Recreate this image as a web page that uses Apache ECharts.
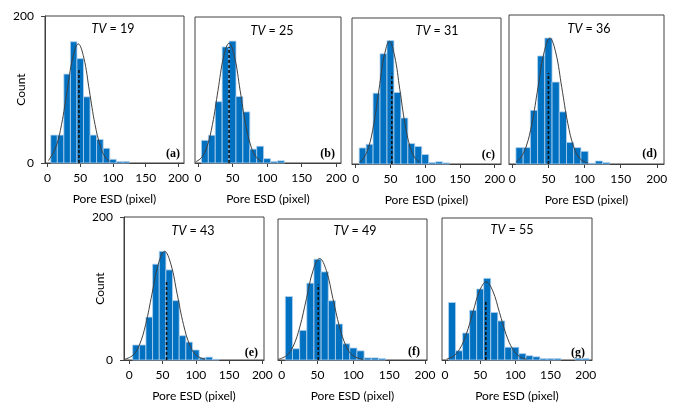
<!DOCTYPE html>
<html>
<head>
<meta charset="utf-8">
<script src="https://cdn.jsdelivr.net/npm/echarts@6/dist/echarts.min.js"></script>
<style>
html,body{margin:0;padding:0;background:#fff;}
#chart{width:680px;height:403px;}
</style>
</head>
<body>
<div id="chart"></div>
<script>
// ---------------- data ----------------
const binCenters = [10,20,30,40,50,60,70,80,90,100,110,120,130,140,150,160,170,180,190,200];
const countsA = [38,38,121,165,142,90,38,32,20,5,2,2];
const countsB = [31,38,84,159,167,91,70,19,23,6,2,3];
const countsC = [22,27,97,151,169,98,63,28,24,13,2,3,1.5];
const countsD = [22,22,72,145,169,110,70,29,22,17,1,4,2];
const countsE = [21,21,60,134,152,126,83,34,25,14,3,4,1];
const countsF = [90,16,42,109,143,125,84,51,23,17,13,3,3,2];
const countsG = [81,13,38,70,100,115,67,55,18,18,9,6,4.5,2,2,2,0,0,2,2];

const curveA = [[1.5,3.3],[13,22],[21.5,52.6],[30,98],[38.5,143],[47,162],[55.5,143],[64,98],[72.5,52.6],[81,22],[88,8],[95,2.4]];
const curveB = [[-3,1.8],[5,7.2],[13,22],[21,53],[29,99.5],[37,145],[45,164],[53,145],[61,99.5],[69,53],[77,22],[85,7.2],[92,2.2]];
const curveC = [[5,2.5],[11,7.4],[18.5,22.7],[26,54.5],[33.5,102],[41,148],[48.5,168],[56,148],[63.5,102],[71,54.5],[78.5,22.7],[86,7.4],[92,2.5]];
const curveD = [[5,2.9],[10.75,7.4],[19,22.9],[27.25,54.9],[35.5,102.5],[43.75,149],[52,169],[60.25,149],[68.5,102.5],[76.75,54.9],[85,22.9],[93.25,7.4],[105,1]];
const curveE = [[-6.5,1.1],[5.5,6.7],[15,20.6],[24.5,49.4],[34,92],[43.5,134],[53,152],[62.5,134],[72,92],[81.5,49.4],[91,20.6],[100.5,6.7],[114,0.9]];
const curveF = [[-4.7,1.1],[6.75,6.3],[16,19.5],[25.25,46.8],[34.5,87],[43.75,127],[53,144],[62.25,127],[71.5,87],[80.75,46.8],[90,19.5],[99.25,6.3],[114,0.6]];
const curveG = [[2.4,1.4],[11,4.8],[20.5,14.9],[30,35.7],[39.5,66.7],[49,97],[58.5,110],[68,97],[77.5,66.7],[87,35.7],[96.5,14.9],[106,4.8],[116,1]];

const meanX   = [48, 45, 52, 50, 56, 51, 58];
const meanTop = [129, 159, 124, 122, 110, 107, 82];

const tvValues = ['19','25','31','36','43','49','55'];
const panelLetters = ['(a)','(b)','(c)','(d)','(e)','(f)','(g)'];
const xTickValues = [0,50,100,150,200];
const yTickValues = [0,200];
const xAxisTitle = 'Pore ESD (pixel)';
const yAxisTitle = 'Count';

const allCounts = [countsA,countsB,countsC,countsD,countsE,countsF,countsG];
const allCurves = [curveA,curveB,curveC,curveD,curveE,curveF,curveG];

// ---------------- layout ----------------
const layout = [
  {left:45,  top:16,  width:139, height:147, xmin:-3.8, xmax:208.4, showY:true,  title:[113,29],  tag:[180,154]},
  {left:195, top:17,  width:146, height:146, xmin:-4.3, xmax:207,   showY:false, title:[272,31],  tag:[335,154]},
  {left:352, top:18,  width:149, height:146, xmin:-5.3, xmax:209,   showY:false, title:[437,30.5],tag:[495,155]},
  {left:509, top:15,  width:155, height:149, xmin:-4.6, xmax:210,   showY:false, title:[589,29],  tag:[657,154]},
  {left:124, top:217, width:140, height:147, xmin:-8,   xmax:202.5, showY:true,  title:[193,230.5],tag:[258,353]},
  {left:278, top:219, width:149, height:147, xmin:-5.2, xmax:202.8, showY:false, title:[355,231], tag:[420,352]},
  {left:442, top:218, width:150, height:148, xmin:-4.3, xmax:209,   showY:false, title:[512,230], tag:[585,353]}
];

const FONT = 'Lato, "Open Sans", sans-serif';
const FS = 12;
const BAR_COLOR = '#0070C0';
const grids = [], xAxes = [], yAxes = [], series = [], graphics = [];

layout.forEach((L, i) => {
  grids.push({left:L.left, top:L.top, width:L.width, height:L.height, show:true,
    borderColor:'#404040', borderWidth:1, backgroundColor:'transparent'});
  xAxes.push({
    type:'value', gridIndex:i, min:L.xmin, max:L.xmax,
    axisLine:{show:true, onZero:false, lineStyle:{color:'#404040', width:1}},
    axisTick:{show:true, customValues:xTickValues, length:4, lineStyle:{color:'#404040'}},
    axisLabel:{customValues:xTickValues, margin:9, fontSize:FS, color:'#000', fontFamily:FONT},
    splitLine:{show:false},
    name:xAxisTitle, nameLocation:'middle', nameGap:30, nameMoveOverlap:false,
    nameTextStyle:{fontSize:FS, color:'#000', fontFamily:FONT}
  });
  yAxes.push({
    type:'value', gridIndex:i, min:0, max:200,
    axisLine:{show:L.showY, onZero:false, lineStyle:{color:'#404040'}},
    axisTick:{show:L.showY, customValues:yTickValues, length:4, lineStyle:{color:'#404040'}},
    axisLabel:{show:L.showY, customValues:yTickValues, margin:11, fontSize:FS, color:'#000', fontFamily:FONT},
    splitLine:{show:false},
    name:L.showY ? yAxisTitle : '', nameLocation:'middle', nameGap:18, nameMoveOverlap:false,
    nameTextStyle:{fontSize:FS, color:'#000', fontFamily:FONT}
  });
  const barData = allCounts[i].map((c, k) => [binCenters[k], c]).filter(d => d[1] > 0);
  series.push({
    type:'custom', xAxisIndex:i, yAxisIndex:i, data:barData, z:2,
    renderItem:(params, api) => {
      const x = api.value(0), y = api.value(1);
      const p0 = api.coord([x - 5, y]);
      const p1 = api.coord([x + 5, 0]);
      return {type:'rect', shape:{x:p0[0], y:p0[1], width:p1[0]-p0[0], height:p1[1]-p0[1]},
        style:{fill:BAR_COLOR, stroke:'#B4D2EE', lineWidth:0.8}};
    }
  });
  series.push({
    type:'line', xAxisIndex:i, yAxisIndex:i, data:[[meanX[i],0],[meanX[i],meanTop[i]]],
    showSymbol:false, silent:true, z:3,
    lineStyle:{color:'#111', width:1.6, type:[3,2]}
  });
  series.push({
    type:'line', xAxisIndex:i, yAxisIndex:i, data:allCurves[i], smooth:0.4,
    showSymbol:false, silent:true, z:4,
    lineStyle:{color:'#404040', width:1}
  });
  graphics.push({
    type:'text', x:L.title[0], y:L.title[1],
    style:{text:'{i|TV}{n| = ' + tvValues[i] + '}', align:'center', verticalAlign:'middle',
      rich:{i:{fontStyle:'italic', fontSize:12.5, fontFamily:FONT, fill:'#000'},
            n:{fontSize:12.5, fontFamily:FONT, fill:'#000'}}}
  });
  graphics.push({
    type:'text', x:L.tag[0], y:L.tag[1],
    style:{text:panelLetters[i], align:'right', verticalAlign:'middle',
      font:'bold 12px "Liberation Serif", serif', fill:'#000'}
  });
});

const chart = echarts.init(document.getElementById('chart'), null, {renderer:'canvas'});
chart.setOption({
  animation:false,
  backgroundColor:'#fff',
  grid:grids, xAxis:xAxes, yAxis:yAxes, series:series, graphic:graphics
});
</script>
</body>
</html>
